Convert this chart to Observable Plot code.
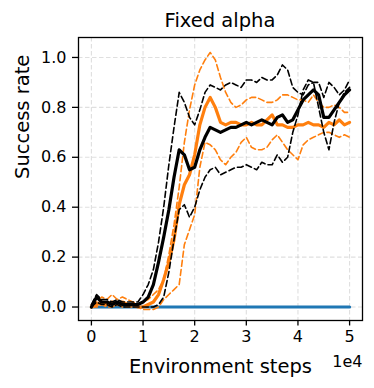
<!DOCTYPE html>
<html>
<head>
<meta charset="utf-8">
<script src="https://cdn.jsdelivr.net/npm/d3@7"></script>
<script src="https://cdn.jsdelivr.net/npm/@observablehq/plot@0.6"></script>
<style>
  html, body { margin: 0; padding: 0; background: #fff; }
  body { font-family: "DejaVu Sans", sans-serif; width: 374px; height: 388px; overflow: hidden; }
  #title { position: relative; width: 374px; height: 30px; }
  #title span { position: absolute; left: 220px; top: 9px; transform: translateX(-50%); font-size: 19.5px; white-space: nowrap; color: #000; }
</style>
</head>
<body>
<div id="title"><span>Fixed alpha</span></div>
<div id="chart"></div>
<script>
// x positions in units of 1e4 environment steps
const steps = [0,0.1,0.2,0.3,0.4,0.5,0.6,0.7,0.8,0.9,1.0,1.1,1.2,1.3,1.4,1.5,1.6,1.7,1.8,1.9,2.0,2.1,2.2,2.3,2.4,2.5,2.6,2.7,2.8,2.9,3.0,3.1,3.2,3.3,3.4,3.5,3.6,3.7,3.8,3.9,4.0,4.1,4.2,4.3,4.4,4.5,4.6,4.7,4.8,4.9,5.0];

const blueMean = [0,0,0,0,0,0,0,0,0,0,0,0,0,0,0,0,0,0,0,0,0,0,0,0,0,0,0,0,0,0,0,0,0,0,0,0,0,0,0,0,0,0,0,0,0,0,0,0,0,0,0];

const orangeMean = [0.00,0.01,0.02,0.01,0.02,0.01,0.02,0.01,0.01,0.00,0.00,
  0.01,0.02,0.05,0.11,0.18,0.27,0.41,0.49,0.53,0.61,
  0.73,0.80,0.84,0.80,0.74,0.73,0.74,0.74,0.73,0.73,
  0.74,0.73,0.73,0.75,0.77,0.73,0.73,0.72,0.72,0.73,
  0.73,0.74,0.73,0.73,0.72,0.74,0.73,0.75,0.73,0.74];
const orangeUpper = [0.01,0.02,0.04,0.03,0.05,0.03,0.04,0.03,0.02,0.01,0.02,
  0.03,0.05,0.07,0.11,0.21,0.33,0.48,0.66,0.79,0.89,
  0.95,0.99,1.02,0.99,0.92,0.86,0.82,0.80,0.81,0.83,
  0.84,0.84,0.83,0.82,0.82,0.83,0.85,0.85,0.84,0.83,
  0.83,0.82,0.85,0.82,0.80,0.80,0.81,0.80,0.78,0.78];
const orangeLower = [0.00,0.00,0.01,0.00,0.00,0.01,0.00,0.00,0.00,0.00,-0.01,
  -0.01,-0.01,0.00,0.03,0.05,0.07,0.09,0.25,0.31,0.37,
  0.56,0.66,0.65,0.63,0.59,0.57,0.60,0.62,0.66,0.68,
  0.64,0.63,0.63,0.64,0.67,0.69,0.66,0.63,0.61,0.59,
  0.65,0.67,0.68,0.69,0.70,0.70,0.69,0.68,0.69,0.68];

const blackMean = [0.00,0.04,0.02,0.02,0.01,0.02,0.01,0.01,0.01,0.01,0.02,
  0.04,0.09,0.18,0.28,0.39,0.52,0.63,0.61,0.55,0.56,
  0.63,0.68,0.72,0.71,0.70,0.71,0.72,0.72,0.73,0.74,
  0.73,0.74,0.75,0.74,0.73,0.76,0.77,0.74,0.75,0.79,
  0.83,0.85,0.87,0.85,0.76,0.76,0.79,0.82,0.85,0.87];
const blackUpper = [0.01,0.05,0.03,0.03,0.02,0.03,0.02,0.02,0.02,0.02,0.05,
  0.09,0.15,0.26,0.40,0.57,0.72,0.86,0.82,0.76,0.73,
  0.79,0.86,0.89,0.88,0.87,0.89,0.90,0.89,0.88,0.91,
  0.91,0.90,0.92,0.91,0.91,0.93,0.97,0.95,0.88,0.86,
  0.85,0.89,0.90,0.90,0.84,0.90,0.88,0.85,0.87,0.91];
const blackLower = [0.00,0.02,0.01,0.01,0.00,0.01,0.00,0.00,0.00,0.00,0.00,
  0.00,0.00,0.01,0.04,0.14,0.27,0.39,0.41,0.36,0.40,
  0.47,0.52,0.55,0.56,0.53,0.54,0.55,0.56,0.56,0.57,
  0.56,0.55,0.58,0.57,0.57,0.61,0.58,0.60,0.70,0.77,
  0.87,0.91,0.90,0.80,0.70,0.63,0.74,0.82,0.86,0.88];

const xTicks = [0, 1, 2, 3, 4, 5];
const yTicks = [0.0, 0.2, 0.4, 0.6, 0.8, 1.0];
const titleText = "Fixed alpha";
const xLabel = "Environment steps";
const yLabel = "Success rate";
const xOffsetLabel = "1e4";

const ORANGE = "#ff7f0e", BLACK = "#000000", BLUE = "#1f77b4";
const dash = "6,3.2";
const gridStyle = {stroke: "#b0b0b0", strokeOpacity: 0.4, strokeWidth: 1.1, strokeDasharray: "4.5,2.5"};

const plot = Plot.plot({
  width: 374,
  height: 358,
  marginLeft: 78,
  marginRight: 12,
  marginTop: 7,
  marginBottom: 68,
  style: {fontFamily: "DejaVu Sans, sans-serif", background: "#fff", color: "#000"},
  x: {domain: [-0.25, 5.25]},
  y: {domain: [-0.054, 1.08]},
  marks: [
    Plot.gridX(xTicks, gridStyle),
    Plot.gridY(yTicks, gridStyle),
    Plot.lineY(blueMean, {x: steps, stroke: BLUE, strokeWidth: 3.2}),
    Plot.lineY(orangeUpper, {x: steps, stroke: ORANGE, strokeWidth: 1.6, strokeDasharray: dash}),
    Plot.lineY(orangeLower, {x: steps, stroke: ORANGE, strokeWidth: 1.6, strokeDasharray: dash}),
    Plot.lineY(orangeMean, {x: steps, stroke: ORANGE, strokeWidth: 3.2}),
    Plot.lineY(blackUpper, {x: steps, stroke: BLACK, strokeWidth: 1.6, strokeDasharray: dash}),
    Plot.lineY(blackLower, {x: steps, stroke: BLACK, strokeWidth: 1.6, strokeDasharray: dash}),
    Plot.lineY(blackMean, {x: steps, stroke: BLACK, strokeWidth: 3.2}),
    Plot.frame({stroke: "#000", strokeWidth: 1.3}),
    Plot.axisX(xTicks, {tickSize: 5.5, tickPadding: 5, strokeWidth: 1.3, tickFormat: d => String(d), fontSize: 16, label: null}),
    Plot.axisY(yTicks, {tickSize: 6, tickPadding: 6, strokeWidth: 1.3, tickFormat: d3.format(".1f"), fontSize: 16, label: null}),
    Plot.text([xLabel], {frameAnchor: "bottom", text: d => d, dy: 46, fontSize: 19.5, lineAnchor: "middle"}),
    Plot.text([xOffsetLabel], {frameAnchor: "bottom-right", text: d => d, dy: 41.5, textAnchor: "end", fontSize: 16, lineAnchor: "middle"}),
    Plot.text([yLabel], {frameAnchor: "left", text: d => d, dx: -56, rotate: -90, fontSize: 19.5, lineAnchor: "middle"})
  ]
});
document.getElementById("chart").appendChild(plot);
</script>
</body>
</html>
